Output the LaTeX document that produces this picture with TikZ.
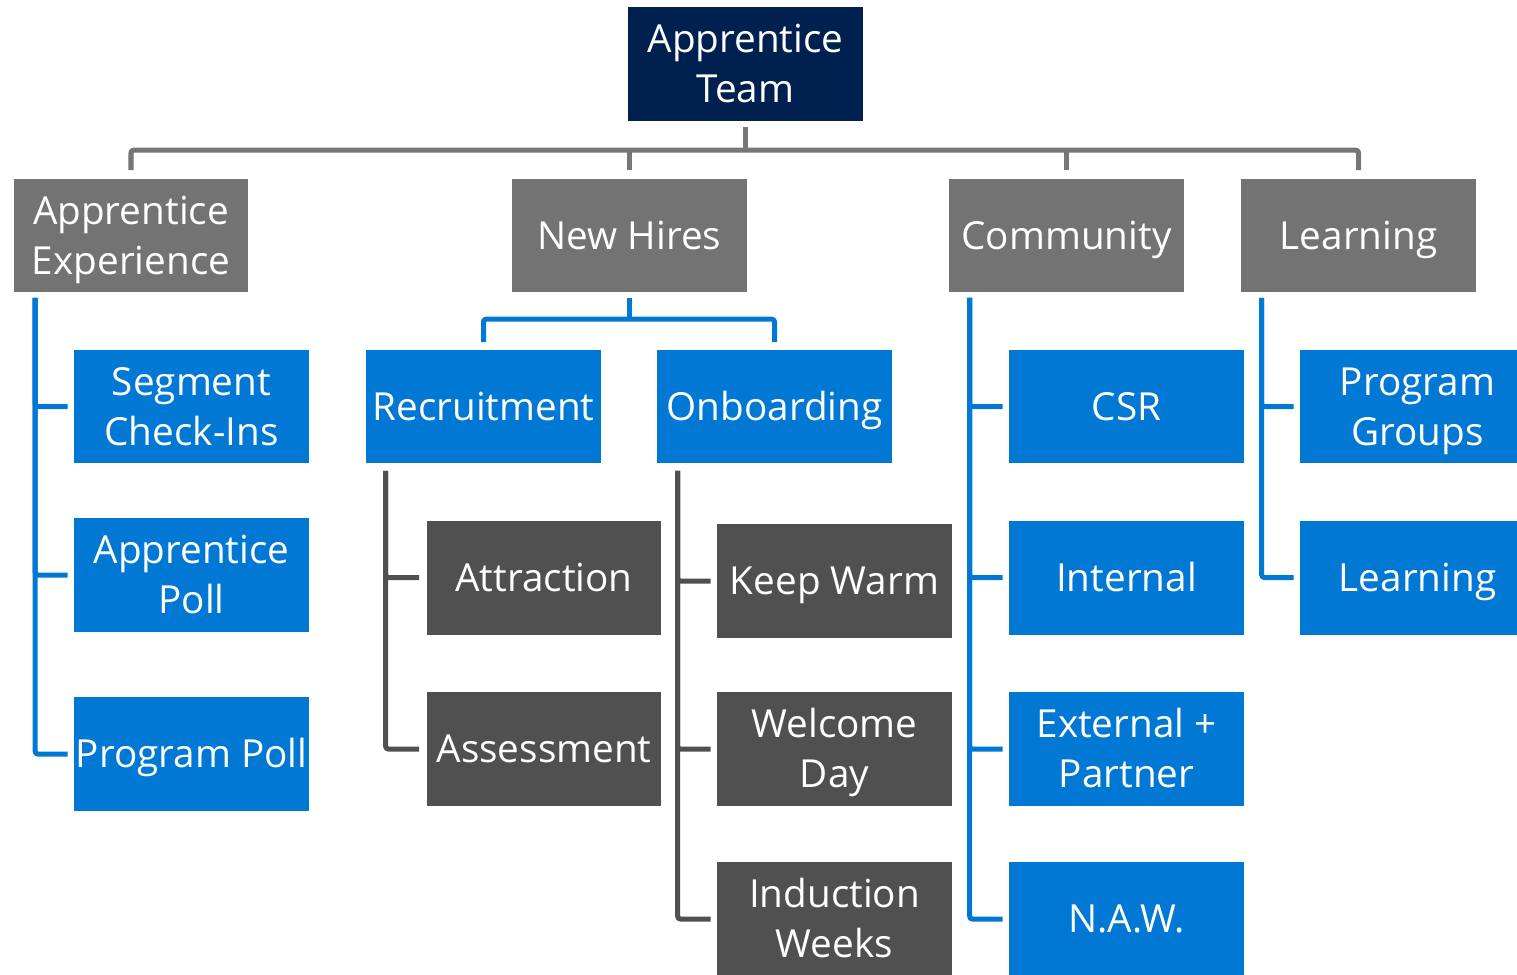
\documentclass[tikz,border=0pt]{standalone}
\usepackage{fontspec}
\setmainfont{Open Sans}
\definecolor{navy}{HTML}{002050}
\definecolor{midgray}{HTML}{737373}
\definecolor{darkgray}{HTML}{505050}
\definecolor{msblue}{HTML}{0078D4}
\definecolor{linegray}{HTML}{767676}
\newcommand\mystrutx{\vrule height 21.6pt depth 6pt width 0pt}
\tikzset{
  box/.style={minimum width=4.7cm, minimum height=2.28cm, inner sep=0pt, align=center, text=white,
    font=\fontsize{22}{28.5}\selectfont,
    execute at begin node=\mystrutx, execute at end node=\mystrutx},
  rootbox/.style={box, fill=navy},
  grpbox/.style={box, fill=midgray},
  bluebox/.style={box, fill=msblue},
  darkbox/.style={box, fill=darkgray},
  conn/.style={line width=2.85pt, line join=round, line cap=butt, rounded corners=1.5pt},
  grayline/.style={conn, draw=linegray},
  blueline/.style={conn, draw=msblue},
  darkline/.style={conn, draw=darkgray},
}
\begin{document}
\begin{tikzpicture}[x=0.02cm, y=-0.02cm]
\useasboundingbox (0,0) rectangle (1517,974);
\clip (0,0) rectangle (1517,974);
\fill[white] (0,0) rectangle (1517,974);

% nodes
\node[rootbox] (root) at (745.5,64) {\mystrutx Apprentice\\Team\mystrutx};
\node[grpbox] (AE) at (131,235.5) {\mystrutx Apprentice\\Experience\mystrutx};
\node[grpbox] (NH) at (629.5,235.5) {New Hires};
\node[grpbox] (Com) at (1066.5,235.5) {Community};
\node[grpbox] (Learn) at (1358.5,235.5) {Learning};

\node[bluebox] (Seg) at (191.5,406.5) {\mystrutx Segment\\Check-Ins\mystrutx};
\node[bluebox] (APoll) at (191.5,575) {\mystrutx Apprentice\\Poll\mystrutx};
\node[bluebox] (PPoll) at (191.5,754) {Program Poll};

\node[bluebox] (Recr) at (483.5,406.5) {Recruitment};
\node[bluebox] (Onb) at (774.5,406.5) {Onboarding};

\node[darkbox] (Attr) at (544,577.5) {Attraction};
\node[darkbox] (Assess) at (544,749) {Assessment};

\node[darkbox] (Keep) at (834.5,581) {Keep Warm};
\node[darkbox] (Welcome) at (834.5,749) {\mystrutx Welcome\\Day\mystrutx};
\node[darkbox] (Induct) at (834.5,919) {\mystrutx Induction\\Weeks\mystrutx};

\node[bluebox] (CSR) at (1126.5,406.5) {CSR};
\node[bluebox] (Internal) at (1126.5,577.5) {Internal};
\node[bluebox] (External) at (1126.5,749) {\mystrutx External +\\Partner\mystrutx};
\node[bluebox] (NAW) at (1126.5,919) {N.A.W.};

\node[bluebox] (PGroups) at (1417.5,406.5) {\mystrutx Program\\Groups\mystrutx};
\node[bluebox] (LearnB) at (1417.5,577.5) {Learning};

% top level connectors
\draw[grayline] ([yshift=-0.12cm]root.south) -- ++(0,23);
\draw[grayline] ([yshift=0.16cm]AE.north) -- ++(0,-20) -| ([yshift=0.16cm]Learn.north);
\draw[grayline] ([yshift=0.16cm]NH.north) -- ++(0,-20);
\draw[grayline] ([yshift=0.16cm]Com.north) -- ++(0,-20);

% Apprentice Experience
\draw[blueline] (AE.south west) ++(22,5) |- ([xshift=-0.12cm]Seg.west);
\draw[blueline] (AE.south west) ++(22,5) |- ([xshift=-0.12cm]APoll.west);
\draw[blueline] (AE.south west) ++(22,5) |- ([xshift=-0.12cm]PPoll.west);

% New Hires
\draw[blueline] ([yshift=-0.1cm]NH.south) -- ++(0,22);
\draw[blueline] ([yshift=0.14cm]Recr.north) -- ++(0,-23) -| ([yshift=0.14cm]Onb.north);

% Recruitment
\draw[darkline] (Recr.south west) ++(20,7) |- ([xshift=-0.14cm]Attr.west);
\draw[darkline] (Recr.south west) ++(20,7) |- ([xshift=-0.14cm]Assess.west);

% Onboarding
\draw[darkline] (Onb.south west) ++(21,7) |- ([xshift=-0.12cm]Keep.west);
\draw[darkline] (Onb.south west) ++(21,7) |- ([xshift=-0.12cm]Welcome.west);
\draw[darkline] (Onb.south west) ++(21,7) |- ([xshift=-0.12cm]Induct.west);

% Community
\draw[blueline] (Com.south west) ++(21,5) |- ([xshift=-0.12cm]CSR.west);
\draw[blueline] (Com.south west) ++(21,5) |- ([xshift=-0.12cm]Internal.west);
\draw[blueline] (Com.south west) ++(21,5) |- ([xshift=-0.12cm]External.west);
\draw[blueline] (Com.south west) ++(21,5) |- ([xshift=-0.12cm]NAW.west);

% Learning
\draw[blueline] (Learn.south west) ++(21,5) |- ([xshift=-0.12cm]PGroups.west);
\draw[blueline] (Learn.south west) ++(21,5) |- ([xshift=-0.12cm]LearnB.west);
\end{tikzpicture}
\end{document}
